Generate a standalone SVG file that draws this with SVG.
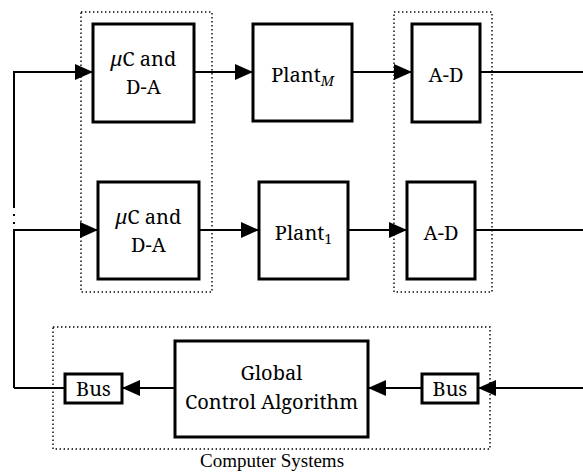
<svg xmlns="http://www.w3.org/2000/svg" width="583" height="475" viewBox="0 0 583 475">
  <defs>
    <marker id="arrow" viewBox="0 0 18 16" refX="18" refY="8" markerWidth="18" markerHeight="16" markerUnits="userSpaceOnUse" orient="auto">
      <path d="M0,0 L18,8 L0,16 Z" fill="#000"/>
    </marker>
  </defs>
  <style>
    .box { fill: #fff; stroke: #000; stroke-width: 3; }
    .group { fill: none; stroke: #000; stroke-width: 1.4; stroke-dasharray: 1.4 2.6; }
    .wire { fill: none; stroke: #000; stroke-width: 2; }
    .arr { marker-end: url(#arrow); }
    .lbl { font-family: 'Noto Serif', 'DejaVu Serif', serif; font-size: 20px; fill: #000; text-anchor: middle; }
    .caption { font-family: 'Liberation Serif', 'Noto Serif', serif; font-size: 19px; fill: #000; text-anchor: middle; }
    .sub { font-size: 14px; }
  </style>
  <rect width="583" height="475" fill="#fff"/>

  <!-- dotted enclosures -->
  <g id="groups">
    <rect class="group" x="81" y="12" width="131" height="280"/>
    <rect class="group" x="394" y="12" width="98" height="280"/>
    <rect class="group" x="53" y="327" width="437" height="122"/>
  </g>

  <!-- connectors -->
  <g id="connectors">
    <path class="wire arr" d="M14,208 L14,72 L93,72"/>
    <path class="wire arr" d="M14,388 L14,230 L98,230"/>
    <rect x="13" y="214" width="2" height="2" fill="#000"/>
    <rect x="13" y="222" width="2" height="2" fill="#000"/>
    <path class="wire arr" d="M194,72 L253,72"/>
    <path class="wire arr" d="M352,72 L412,72"/>
    <path class="wire" d="M480,72 L583,72"/>
    <path class="wire arr" d="M199,230 L259,230"/>
    <path class="wire arr" d="M348,230 L407,230"/>
    <path class="wire" d="M475,230 L583,230"/>
    <path class="wire arr" d="M583,388 L478,388"/>
    <path class="wire arr" d="M422,388 L368,388"/>
    <path class="wire arr" d="M175,388 L122,388"/>
    <path class="wire" d="M65,388 L14,388"/>
  </g>

  <g id="uc-da-m">
    <rect class="box" x="93" y="24" width="101" height="98"/>
    <text class="lbl" x="143.5" y="66"><tspan font-style="italic">μ</tspan>C and</text>
    <text class="lbl" x="143.5" y="94">D-A</text>
  </g>
  <g id="plant-m">
    <rect class="box" x="253" y="24" width="99" height="97"/>
    <text class="lbl" x="302.5" y="82">Plant<tspan class="sub" font-style="italic" dy="4">M</tspan></text>
  </g>
  <g id="ad-m">
    <rect class="box" x="412" y="24" width="68" height="98"/>
    <text class="lbl" x="446" y="82">A-D</text>
  </g>

  <g id="uc-da-1">
    <rect class="box" x="98" y="182" width="101" height="97"/>
    <text class="lbl" x="148.5" y="224"><tspan font-style="italic">μ</tspan>C and</text>
    <text class="lbl" x="148.5" y="252">D-A</text>
  </g>
  <g id="plant-1">
    <rect class="box" x="259" y="182" width="89" height="97"/>
    <text class="lbl" x="303.5" y="240">Plant<tspan class="sub" dy="4">1</tspan></text>
  </g>
  <g id="ad-1">
    <rect class="box" x="407" y="182" width="68" height="97"/>
    <text class="lbl" x="441" y="240">A-D</text>
  </g>

  <g id="bus-out">
    <rect class="box" x="65" y="374" width="57" height="29"/>
    <text class="lbl" x="93.5" y="396">Bus</text>
  </g>
  <g id="global-control">
    <rect class="box" x="175" y="341" width="193" height="96"/>
    <text class="lbl" x="271.5" y="380">Global</text>
    <text class="lbl" x="271.5" y="409">Control Algorithm</text>
  </g>
  <g id="bus-in">
    <rect class="box" x="422" y="374" width="56" height="29"/>
    <text class="lbl" x="450" y="396">Bus</text>
  </g>

  <text class="caption" x="272" y="467">Computer Systems</text>
</svg>
